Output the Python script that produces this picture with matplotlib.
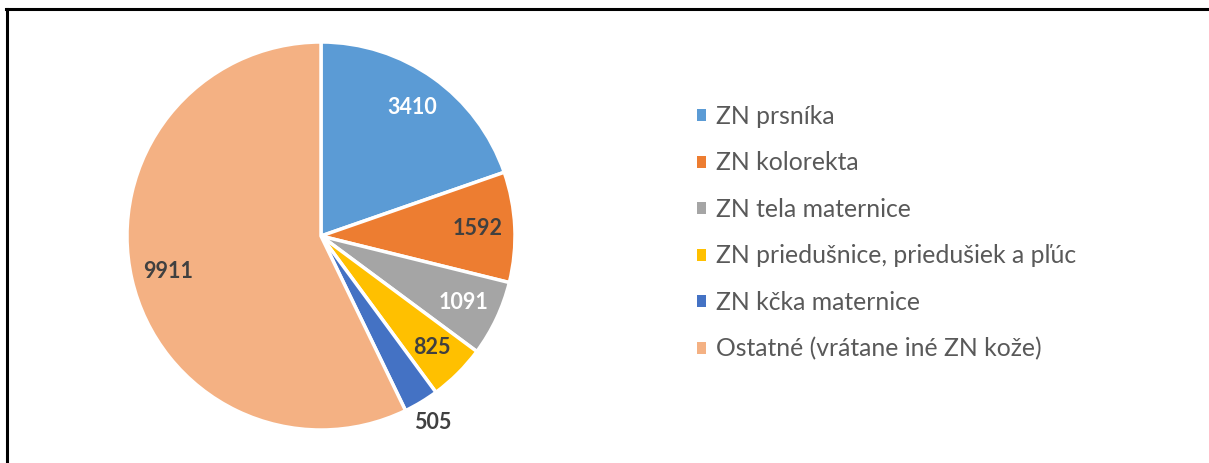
import matplotlib
matplotlib.use("Agg")
import matplotlib.pyplot as plt
from matplotlib.patches import Patch
from matplotlib.lines import Line2D

categories = ["ZN prsníka", "ZN kolorekta", "ZN tela maternice",
              "ZN priedušnice, priedušiek a pľúc", "ZN kčka maternice",
              "Ostatné (vrátane iné ZN kože)"]
values = [3410, 1592, 1091, 825, 505, 9911]
colors = ["#5B9BD5", "#ED7D31", "#A5A5A5", "#FFC000", "#4472C4", "#F4B183"]
label_colors = ["white", "#404040", "white", "#404040", "#404040", "#404040"]

plt.rcParams['font.family'] = ['Lato', 'DejaVu Sans']

W, H = 1209, 463
fig = plt.figure(figsize=(W / 100, H / 100), dpi=100)

cx, cy, R = 321, 463 - 236, 194
ax = fig.add_axes([(cx - R) / W, (cy - R) / H, 2 * R / W, 2 * R / H])
wedges, texts = ax.pie(values, colors=colors, startangle=90, counterclock=False,
                       labels=[str(v) for v in values], labeldistance=0.81,
                       wedgeprops=dict(edgecolor="white", linewidth=2.5))
ax.set_xlim(-1, 1)
ax.set_ylim(-1, 1)
ax.set_aspect("equal")
for t, c in zip(texts, label_colors):
    t.set_color(c)
    t.set_fontsize(15.5)
    t.set_fontweight("bold")
    t.set_ha("center")
    t.set_va("center")
# small slice label outside
x, y = texts[4].get_position()
texts[4].set_position((x * 1.12 / 0.81, y * 1.12 / 0.81))

handles = [Patch(facecolor=c, edgecolor="none") for c in colors]
leg = fig.legend(handles, categories, loc="upper left",
                 bbox_to_anchor=(697 / W, 1 - 105 / H), frameon=False,
                 fontsize=17.8, handlelength=0.38, handleheight=0.38,
                 handletextpad=0.38, labelspacing=0.95, borderpad=0, borderaxespad=0)
for t in leg.get_texts():
    t.set_color("#595959")

# outer border (top and left only)
fig.add_artist(Line2D([6 / W, 1], [1 - 8.5 / H, 1 - 8.5 / H], color="black", lw=2.2,
                      transform=fig.transFigure))
fig.add_artist(Line2D([7 / W, 7 / W], [0, 1 - 8.5 / H], color="black", lw=2.2,
                      transform=fig.transFigure))

fig.savefig("out.png", dpi=100)
